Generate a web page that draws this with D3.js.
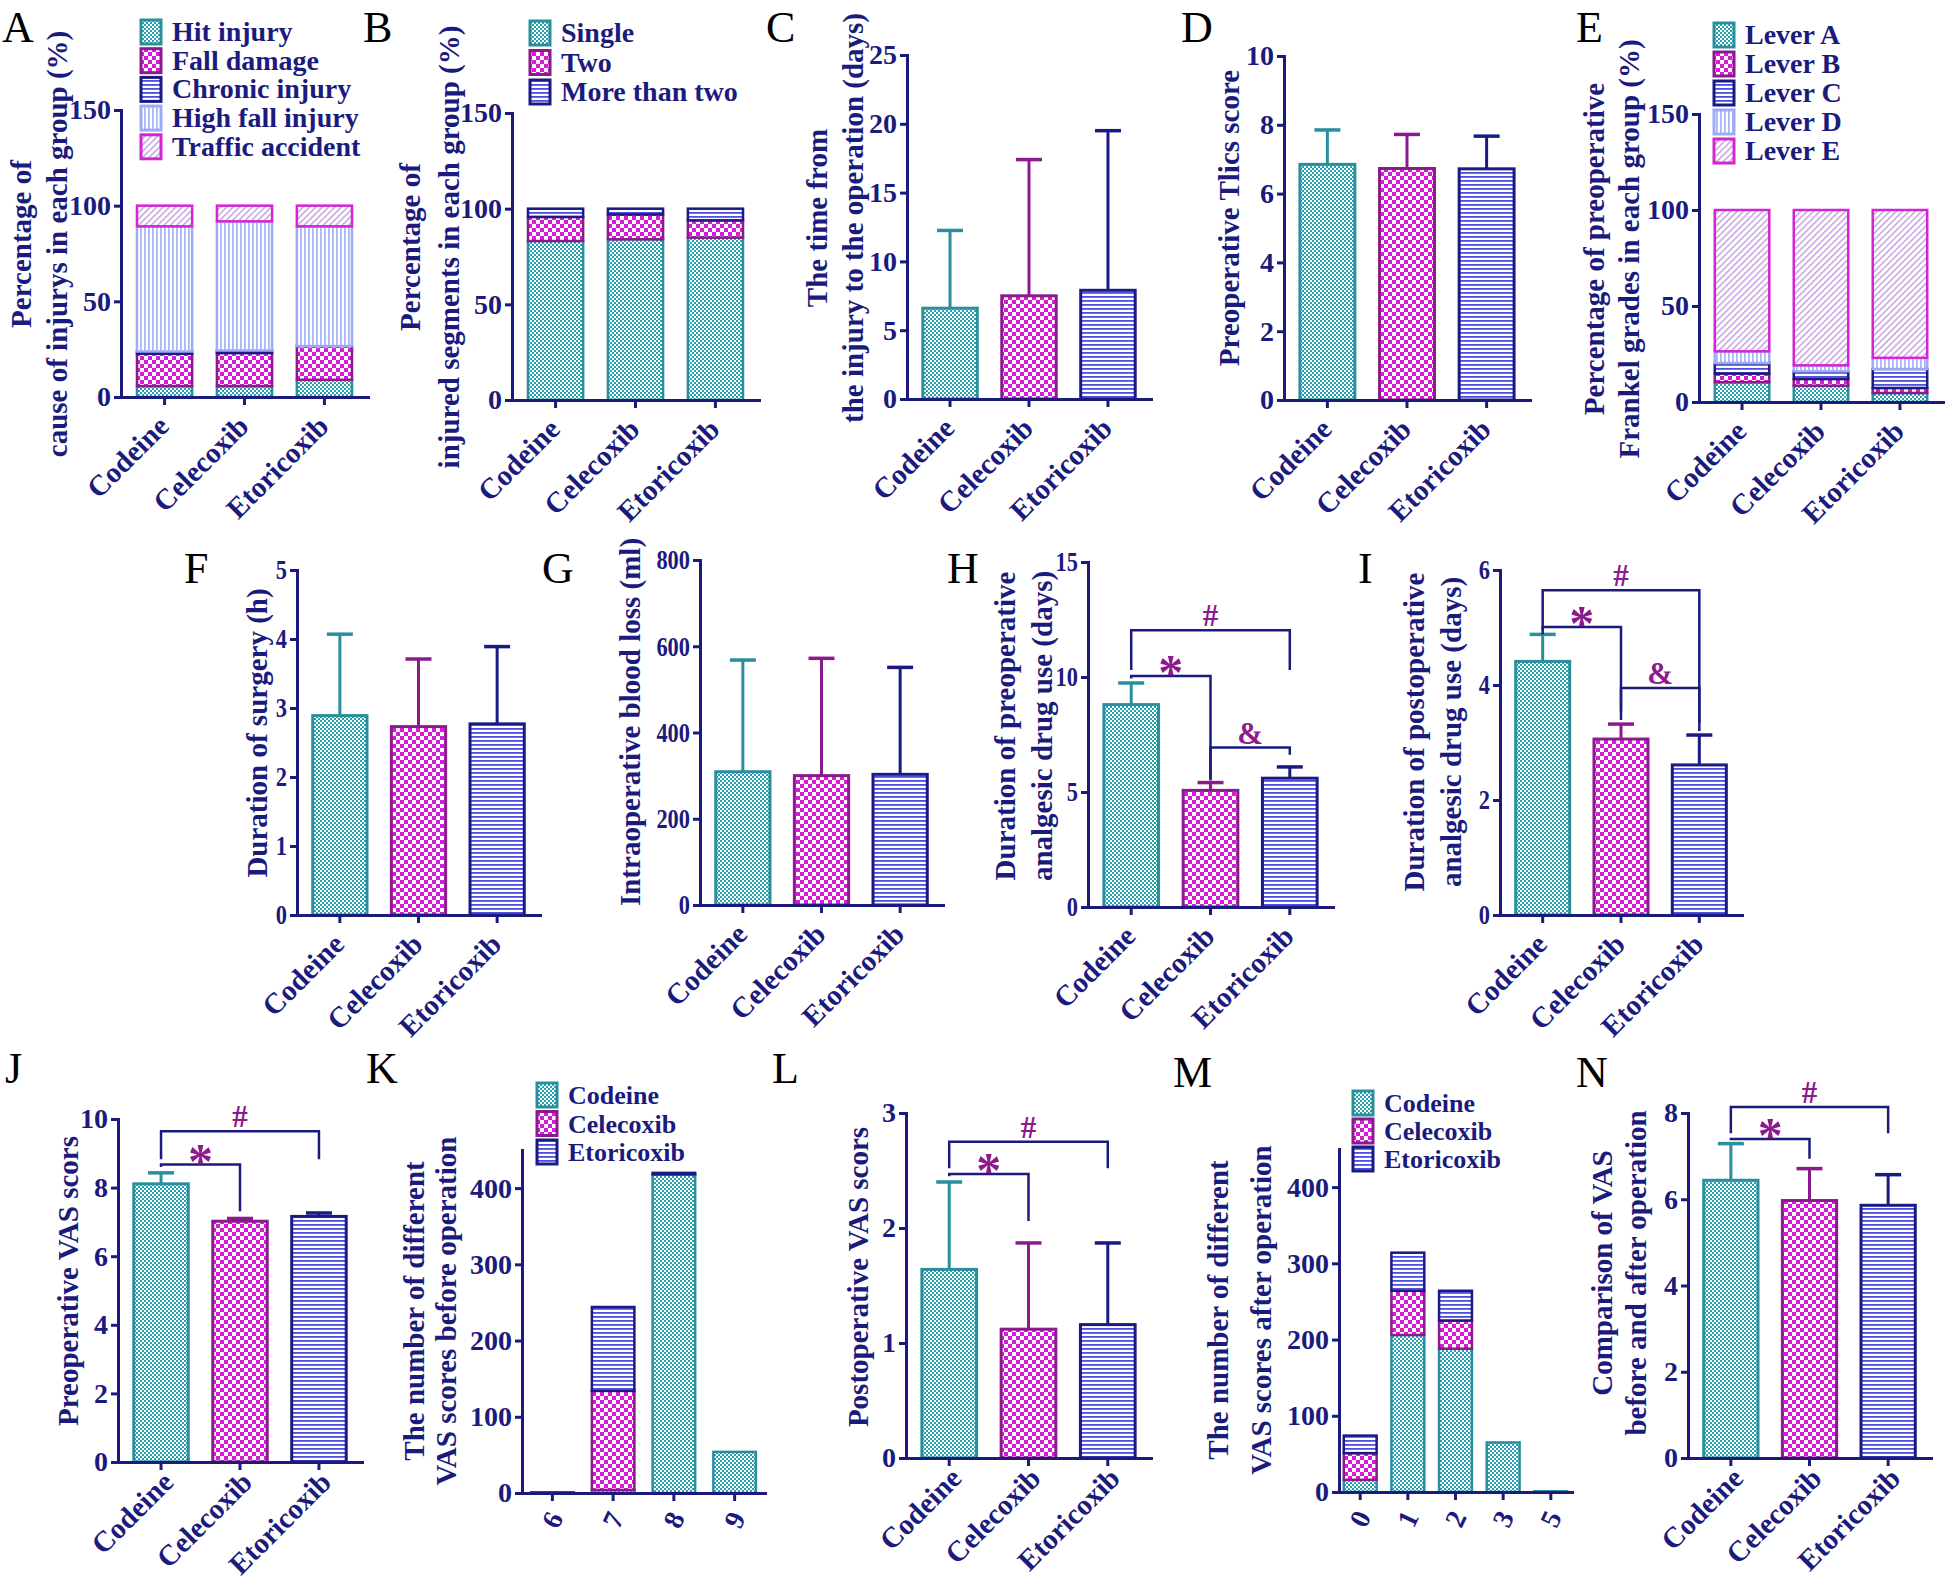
<!DOCTYPE html>
<html><head><meta charset="utf-8">
<script src="https://cdn.jsdelivr.net/npm/d3@7"></script>
<style>
body{margin:0;background:#fff}
svg{display:block}
text{font-family:"Liberation Serif","Times New Roman",serif;font-weight:bold;fill:#1b1b7d}
.ttl{font-size:29px}
.tk{font-size:28px}
.xl{font-size:29px}
.leg{font-size:28px}
.let{font-size:44px;font-weight:normal;fill:#000}
.sig{fill:#8c1a8c}
</style></head><body>
<svg id="c" width="1946" height="1584"></svg>
<script>
// ---------------- DATA ----------------
const groups = ["Codeine", "Celecoxib", "Etoricoxib"];

// A: cause of injury (%)
const causeLabels = ["Hit injury", "Fall damage", "Chronic injury", "High fall injury", "Traffic accident"];
const aHit = [5.7, 5.7, 9.0];
const aFall = [16.9, 17.3, 17.6];
const aChronic = [1.2, 1.3, 0];
const aHighFall = [65.4, 67.5, 62.6];
const aTraffic = [10.8, 8.2, 10.8];

// B: injured segments (%)
const segLabels = ["Single", "Two", "More than two"];
const bSingle = [83.1, 84.0, 84.9];
const bTwo = [12.6, 13.0, 9.0];
const bMore = [4.3, 3.0, 6.1];

// C: time from injury to operation (days)
const cMean = [6.6, 7.5, 7.9];
const cSD = [5.65, 9.9, 11.6];

// D: preoperative TLICS score
const dMean = [6.85, 6.73, 6.72];
const dSD = [1.0, 0.99, 0.95];

// E: Frankel grades (%)
const gradeLabels = ["Lever A", "Lever B", "Lever C", "Lever D", "Lever E"];
const eA = [10.3, 8.5, 4.7];
const eB = [4.5, 3.5, 2.6];
const eC = [5.5, 4.0, 9.9];
const eD = [6.1, 3.1, 5.8];
const eE = [73.6, 80.9, 77.0];

// F: duration of surgery (h)
const fMean = [2.89, 2.73, 2.77];
const fSD = [1.18, 0.98, 1.12];

// G: intraoperative blood loss (ml)
const gMean = [309, 300, 303];
const gSD = [259, 272, 248];

// H: duration of preoperative analgesic drug use (days)
const hMean = [8.8, 5.07, 5.6];
const hSD = [0.94, 0.34, 0.49];

// I: duration of postoperative analgesic drug use (days)
const iMean = [4.41, 3.06, 2.61];
const iSD = [0.47, 0.26, 0.52];

// J: preoperative VAS
const jMean = [8.11, 7.02, 7.16];
const jSD = [0.32, 0.08, 0.10];

// K: number of VAS scores before operation
const kScores = ["6", "7", "8", "9"];
const kCodeine = [0, 4, 418, 54];
const kCelecoxib = [1, 130, 0, 0];
const kEtoricoxib = [0, 110, 2, 0];

// L: postoperative VAS
const lMean = [1.64, 1.12, 1.16];
const lSD = [0.76, 0.75, 0.71];

// M: number of VAS scores after operation
const mScores = ["0", "1", "2", "3", "5"];
const mCodeine = [16, 206, 188, 65, 1];
const mCelecoxib = [35, 58, 37, 0, 0];
const mEtoricoxib = [23, 50, 39, 0, 0];

// N: comparison of VAS before and after operation
const nMean = [6.44, 5.97, 5.86];
const nSD = [0.85, 0.74, 0.71];

// significance brackets (values in axis units)
const hSig = [
  {label: "#", a: 0, b: 2, top: 12.03, legA: 10.3, legB: 10.3},
  {label: "*", a: 0, b: 1, top: 10.04, legA: 9.93, legB: 5.58},
  {label: "&", a: 1, b: 2, top: 6.93, legA: 5.5, legB: 6.62}
];
const iSig = [
  {label: "#", a: 0, b: 2, top: 5.65, legA: 4.88, legB: 3.2},
  {label: "*", a: 0, b: 1, top: 5.01, legA: 4.96, legB: 3.54},
  {label: "&", a: 1, b: 2, top: 3.95, legA: 3.39, legB: 3.34}
];
const jSig = [
  {label: "#", a: 0, b: 2, top: 9.64, legA: 8.83, legB: 8.83},
  {label: "*", a: 0, b: 1, top: 8.67, legA: 8.6, legB: 7.31}
];
const lSig = [
  {label: "#", a: 0, b: 2, top: 2.75, legA: 2.52, legB: 2.52},
  {label: "*", a: 0, b: 1, top: 2.47, legA: 2.45, legB: 2.06}
];
const nSig = [
  {label: "#", a: 0, b: 2, top: 8.14, legA: 7.53, legB: 7.53},
  {label: "*", a: 0, b: 1, top: 7.40, legA: 7.37, legB: 6.94}
];

// ---------------- STYLE ----------------
const NAVY = "#1b1b7d";
const svg = d3.select("#c");
const defs = svg.append("defs");
function pat(id, w, h, draw, tr) {
  const p = defs.append("pattern").attr("id", id).attr("patternUnits", "userSpaceOnUse")
    .attr("width", w).attr("height", h);
  if (tr) p.attr("patternTransform", tr);
  p.append("rect").attr("width", w).attr("height", h).attr("fill", "#fff");
  draw(p);
}
pat("pTeal", 4, 4, p => {
  p.append("rect").attr("width", 2).attr("height", 2).attr("fill", "#2aa0ad");
  p.append("rect").attr("x", 2).attr("y", 2).attr("width", 2).attr("height", 2).attr("fill", "#2aa0ad");
});
pat("pMag", 8, 8, p => {
  p.append("rect").attr("width", 4).attr("height", 4).attr("fill", "#d61cd6");
  p.append("rect").attr("x", 4).attr("y", 4).attr("width", 4).attr("height", 4).attr("fill", "#d61cd6");
});
pat("pNavy", 4, 4, p => {
  p.append("rect").attr("width", 4).attr("height", 1.8).attr("fill", "#4f4fdf");
});
pat("pLblue", 4, 4, p => {
  p.append("rect").attr("width", 1.8).attr("height", 4).attr("fill", "#aab8f8");
});
pat("pHatch", 4.5, 4.5, p => {
  p.append("rect").attr("width", 1.4).attr("height", 4.5).attr("fill", "#c09ddc");
}, "rotate(45)");

const ST = {
  teal: {fill: "url(#pTeal)", stroke: "#2a8f9d"},
  mag: {fill: "url(#pMag)", stroke: "#8c1a8c"},
  navy: {fill: "url(#pNavy)", stroke: "#1a1a84"},
  lblue: {fill: "url(#pLblue)", stroke: "#9eaaf6"},
  hatch: {fill: "url(#pHatch)", stroke: "#d424d4"}
};
const groupStyles = [ST.teal, ST.mag, ST.navy];

// ---------------- HELPERS ----------------
function makePanel(o) {
  const g = svg.append("g");
  const x = d3.scaleBand().domain(o.cats).range([o.x0, o.x1])
    .paddingInner(o.pi ?? 0.31).paddingOuter(o.po ?? 0.2);
  const y = d3.scaleLinear().domain([0, o.ymax]).range([o.y0, o.yTop]);
  return {g, x, y, o, cx: c => x(c) + x.bandwidth() / 2};
}

function drawAxes(P) {
  const {g, x, y, o} = P;
  const ya = g.append("g").attr("transform", `translate(${o.x0},0)`)
    .call(d3.axisLeft(y).tickValues(o.ticks).tickFormat(d3.format("d")).tickSize(7).tickSizeOuter(0).tickPadding(3));
  const xa = g.append("g").attr("transform", `translate(0,${o.y0})`)
    .call(d3.axisBottom(x).tickSize(8).tickSizeOuter(0));
  [ya, xa].forEach(a => {
    a.select(".domain").attr("stroke", NAVY).attr("stroke-width", 3).attr("stroke-linecap", "square");
    a.selectAll(".tick line").attr("stroke", NAVY).attr("stroke-width", 3);
  });
  const tt = ya.selectAll(".tick text").attr("class", "tk").attr("fill", NAVY)
    .attr("font-size", null).attr("font-family", null);
  if (o.narrow) {
    tt.attr("x", 0).attr("transform", `translate(-10,0) scale(${o.narrow},1)`);
  }
  xa.selectAll(".tick text").remove();
  const ldx = o.ldx ?? 6, ldy = o.ldy ?? 31;
  o.cats.forEach(c => {
    const t = g.append("text").attr("class", o.digits ? "tk" : "xl").text(c);
    if (o.digits) {
      t.attr("text-anchor", "middle").attr("dominant-baseline", "central")
        .attr("transform", `translate(${P.cx(c)},${o.y0 + 27}) rotate(-65)`);
    } else {
      t.attr("text-anchor", "end")
        .attr("transform", `translate(${P.cx(c) + ldx},${o.y0 + ldy}) rotate(-45)`);
    }
  });
}

function meanBars(P, means, sds) {
  const {g, x, y, o} = P;
  const rows = o.cats.map((c, i) => ({c, m: means[i], s: sds[i], st: groupStyles[i]}));
  rows.forEach(d => {
    const cx = P.cx(d.c);
    g.append("line").attr("x1", cx).attr("x2", cx).attr("y1", y(d.m)).attr("y2", y(d.m + d.s))
      .attr("stroke", d.st.stroke).attr("stroke-width", 3);
    g.append("line").attr("x1", cx - 13).attr("x2", cx + 13).attr("y1", y(d.m + d.s)).attr("y2", y(d.m + d.s))
      .attr("stroke", d.st.stroke).attr("stroke-width", 3.5);
  });
  g.selectAll("rect.bar").data(rows).join("rect").attr("class", "bar")
    .attr("x", d => x(d.c)).attr("width", x.bandwidth())
    .attr("y", d => y(d.m)).attr("height", d => y(0) - y(d.m))
    .attr("fill", d => d.st.fill).attr("stroke", d => d.st.stroke).attr("stroke-width", 3);
}

function stacked(P, keys, arrays, styles, sw) {
  const {g, x, y, o} = P;
  const rows = o.cats.map((c, i) => {
    const r = {c};
    keys.forEach((k, j) => r[k] = arrays[j][i]);
    return r;
  });
  const layers = d3.stack().keys(keys)(rows);
  layers.forEach((layer, j) => {
    g.append("g").selectAll("rect").data(layer.filter(d => d[1] - d[0] > 0)).join("rect")
      .attr("x", d => x(d.data.c)).attr("width", x.bandwidth())
      .attr("y", d => y(d[1])).attr("height", d => y(d[0]) - y(d[1]))
      .attr("fill", styles[j].fill).attr("stroke", styles[j].stroke).attr("stroke-width", sw);
  });
}

function sig(P, list) {
  const {g, y, o} = P;
  list.forEach(s => {
    const xa = P.cx(o.cats[s.a]), xb = P.cx(o.cats[s.b]);
    g.append("path").attr("d", `M${xa},${y(s.legA)}V${y(s.top)}H${xb}V${y(s.legB)}`)
      .attr("fill", "none").attr("stroke", NAVY).attr("stroke-width", 2.5);
    const star = s.label === "*";
    g.append("text").attr("class", "sig").attr("x", (xa + xb) / 2)
      .attr("y", y(s.top) + (star ? 13 : -4))
      .attr("text-anchor", "middle").attr("font-size", star ? 50 : 31)
      .text(s.label);
  });
}

function yTitle(lines, cy) {
  lines.forEach(l => svg.append("text").attr("class", "ttl")
    .attr("transform", `translate(${l.x},${cy}) rotate(-90)`)
    .attr("text-anchor", "middle").attr("dominant-baseline", "central").text(l.t));
}

function legend(x, y0, dy, labels, styles, size) {
  labels.forEach((t, i) => {
    const y = y0 + i * dy;
    svg.append("rect").attr("x", x).attr("y", y - 12).attr("width", 20).attr("height", 24)
      .attr("fill", styles[i].fill).attr("stroke", styles[i].stroke).attr("stroke-width", 3);
    const tx = svg.append("text").attr("class", "leg").attr("x", x + 31).attr("y", y + 9).text(t);
    if (size) tx.style("font-size", size + "px");
  });
}

function letter(t, x, y) {
  svg.append("text").attr("class", "let").attr("x", x).attr("y", y).text(t);
}

// ---------------- PANELS ----------------
// A
let P = makePanel({cats: groups, x0: 121, x1: 368, yTop: 110, y0: 397, ymax: 150, ticks: [0, 50, 100, 150]});
stacked(P, causeLabels, [aHit, aFall, aChronic, aHighFall, aTraffic], [ST.teal, ST.mag, ST.navy, ST.lblue, ST.hatch], 2.5);
drawAxes(P);
legend(141, 32, 28.7, causeLabels, [ST.teal, ST.mag, ST.navy, ST.lblue, ST.hatch]);
yTitle([{t: "Percentage of", x: 21}, {t: "cause of injurys in each group (%)", x: 57}], 244);
letter("A", 2, 42);

// B
P = makePanel({cats: groups, x0: 512, x1: 759, yTop: 113, y0: 400, ymax: 150, ticks: [0, 50, 100, 150]});
stacked(P, segLabels, [bSingle, bTwo, bMore], [ST.teal, ST.mag, ST.navy], 2.5);
drawAxes(P);
legend(530, 33, 29.5, segLabels, [ST.teal, ST.mag, ST.navy]);
yTitle([{t: "Percentage of", x: 410}, {t: "injured segments in each group (%)", x: 449}], 247);
letter("B", 363, 42);

// C
P = makePanel({cats: groups, x0: 907, x1: 1151, yTop: 55, y0: 399, ymax: 25, ticks: [0, 5, 10, 15, 20, 25]});
meanBars(P, cMean, cSD);
drawAxes(P);
yTitle([{t: "The time from", x: 817}, {t: "the injury to the operation (days)", x: 853}], 218);
letter("C", 766, 42);

// D
P = makePanel({cats: groups, x0: 1284, x1: 1530, yTop: 56, y0: 400, ymax: 10, ticks: [0, 2, 4, 6, 8, 10]});
meanBars(P, dMean, dSD);
drawAxes(P);
yTitle([{t: "Preoperative Tlics score", x: 1229}], 218);
letter("D", 1181, 42);

// E
P = makePanel({cats: groups, x0: 1699, x1: 1943, yTop: 114, y0: 402, ymax: 150, ticks: [0, 50, 100, 150]});
stacked(P, gradeLabels, [eA, eB, eC, eD, eE], [ST.teal, ST.mag, ST.navy, ST.lblue, ST.hatch], 2.5);
drawAxes(P);
legend(1714, 35, 29, gradeLabels, [ST.teal, ST.mag, ST.navy, ST.lblue, ST.hatch]);
yTitle([{t: "Percentage of preoperative", x: 1594}, {t: "Frankel grades in each group (%)", x: 1629}], 249);
letter("E", 1576, 42);

// F
P = makePanel({cats: groups, x0: 297, x1: 540, yTop: 570, y0: 915, ymax: 5, ticks: [0, 1, 2, 3, 4, 5], narrow: 0.8});
meanBars(P, fMean, fSD);
drawAxes(P);
yTitle([{t: "Duration of surgery (h)", x: 257}], 733);
letter("F", 184, 583);

// G
P = makePanel({cats: groups, x0: 700, x1: 943, yTop: 560, y0: 905, ymax: 800, ticks: [0, 200, 400, 600, 800], narrow: 0.8});
meanBars(P, gMean, gSD);
drawAxes(P);
yTitle([{t: "Intraoperative blood loss (ml)", x: 630}], 722);
letter("G", 542, 583);

// H
P = makePanel({cats: groups, x0: 1088, x1: 1333, yTop: 562, y0: 907, ymax: 15, ticks: [0, 5, 10, 15], narrow: 0.8});
meanBars(P, hMean, hSD);
drawAxes(P);
sig(P, hSig);
yTitle([{t: "Duration of preoperative", x: 1005}, {t: "analgesic drug use (days)", x: 1042}], 726);
letter("H", 947, 583);

// I
P = makePanel({cats: groups, x0: 1500, x1: 1742, yTop: 570, y0: 915, ymax: 6, ticks: [0, 2, 4, 6], narrow: 0.8});
meanBars(P, iMean, iSD);
drawAxes(P);
sig(P, iSig);
yTitle([{t: "Duration of postoperative", x: 1414}, {t: "analgesic drug use (days)", x: 1451}], 732);
letter("I", 1358, 583);

// J
P = makePanel({cats: groups, x0: 118, x1: 362, yTop: 1119, y0: 1462, ymax: 10, ticks: [0, 2, 4, 6, 8, 10], ldx: 14, ldy: 22});
meanBars(P, jMean, jSD);
drawAxes(P);
sig(P, jSig);
yTitle([{t: "Preoperative VAS scors", x: 68}], 1281);
letter("J", 5, 1083);

// K
P = makePanel({cats: kScores, x0: 522, x1: 765, yTop: 1150, y0: 1493, ymax: 450, ticks: [0, 100, 200, 300, 400], pi: 0.3, po: 0.15, digits: true});
stacked(P, groups, [kCodeine, kCelecoxib, kEtoricoxib], groupStyles, 2.5);
drawAxes(P);
legend(537, 1095, 28.5, groups, groupStyles, 26);
yTitle([{t: "The number of different", x: 414}, {t: "VAS scores before operation", x: 446}], 1311);
letter("K", 366, 1083);

// L
P = makePanel({cats: groups, x0: 906, x1: 1151, yTop: 1113, y0: 1458, ymax: 3, ticks: [0, 1, 2, 3], ldx: 14, ldy: 22});
meanBars(P, lMean, lSD);
drawAxes(P);
sig(P, lSig);
yTitle([{t: "Postoperative VAS scors", x: 858}], 1277);
letter("L", 772, 1083);

// M
P = makePanel({cats: mScores, x0: 1339, x1: 1572, yTop: 1149, y0: 1492, ymax: 450, ticks: [0, 100, 200, 300, 400], pi: 0.31, po: 0.1, digits: true});
stacked(P, groups, [mCodeine, mCelecoxib, mEtoricoxib], groupStyles, 2.5);
drawAxes(P);
legend(1353, 1103, 28, groups, groupStyles, 26);
yTitle([{t: "The number of different", x: 1218}, {t: "VAS scores after operation", x: 1261}], 1310);
letter("M", 1173, 1087);

// N
P = makePanel({cats: groups, x0: 1688, x1: 1931, yTop: 1113, y0: 1458, ymax: 8, ticks: [0, 2, 4, 6, 8], ldx: 14, ldy: 22});
meanBars(P, nMean, nSD);
drawAxes(P);
sig(P, nSig);
yTitle([{t: "Comparison of VAS", x: 1602}, {t: "before and after operation", x: 1636}], 1273);
letter("N", 1576, 1087);
</script>
</body></html>
